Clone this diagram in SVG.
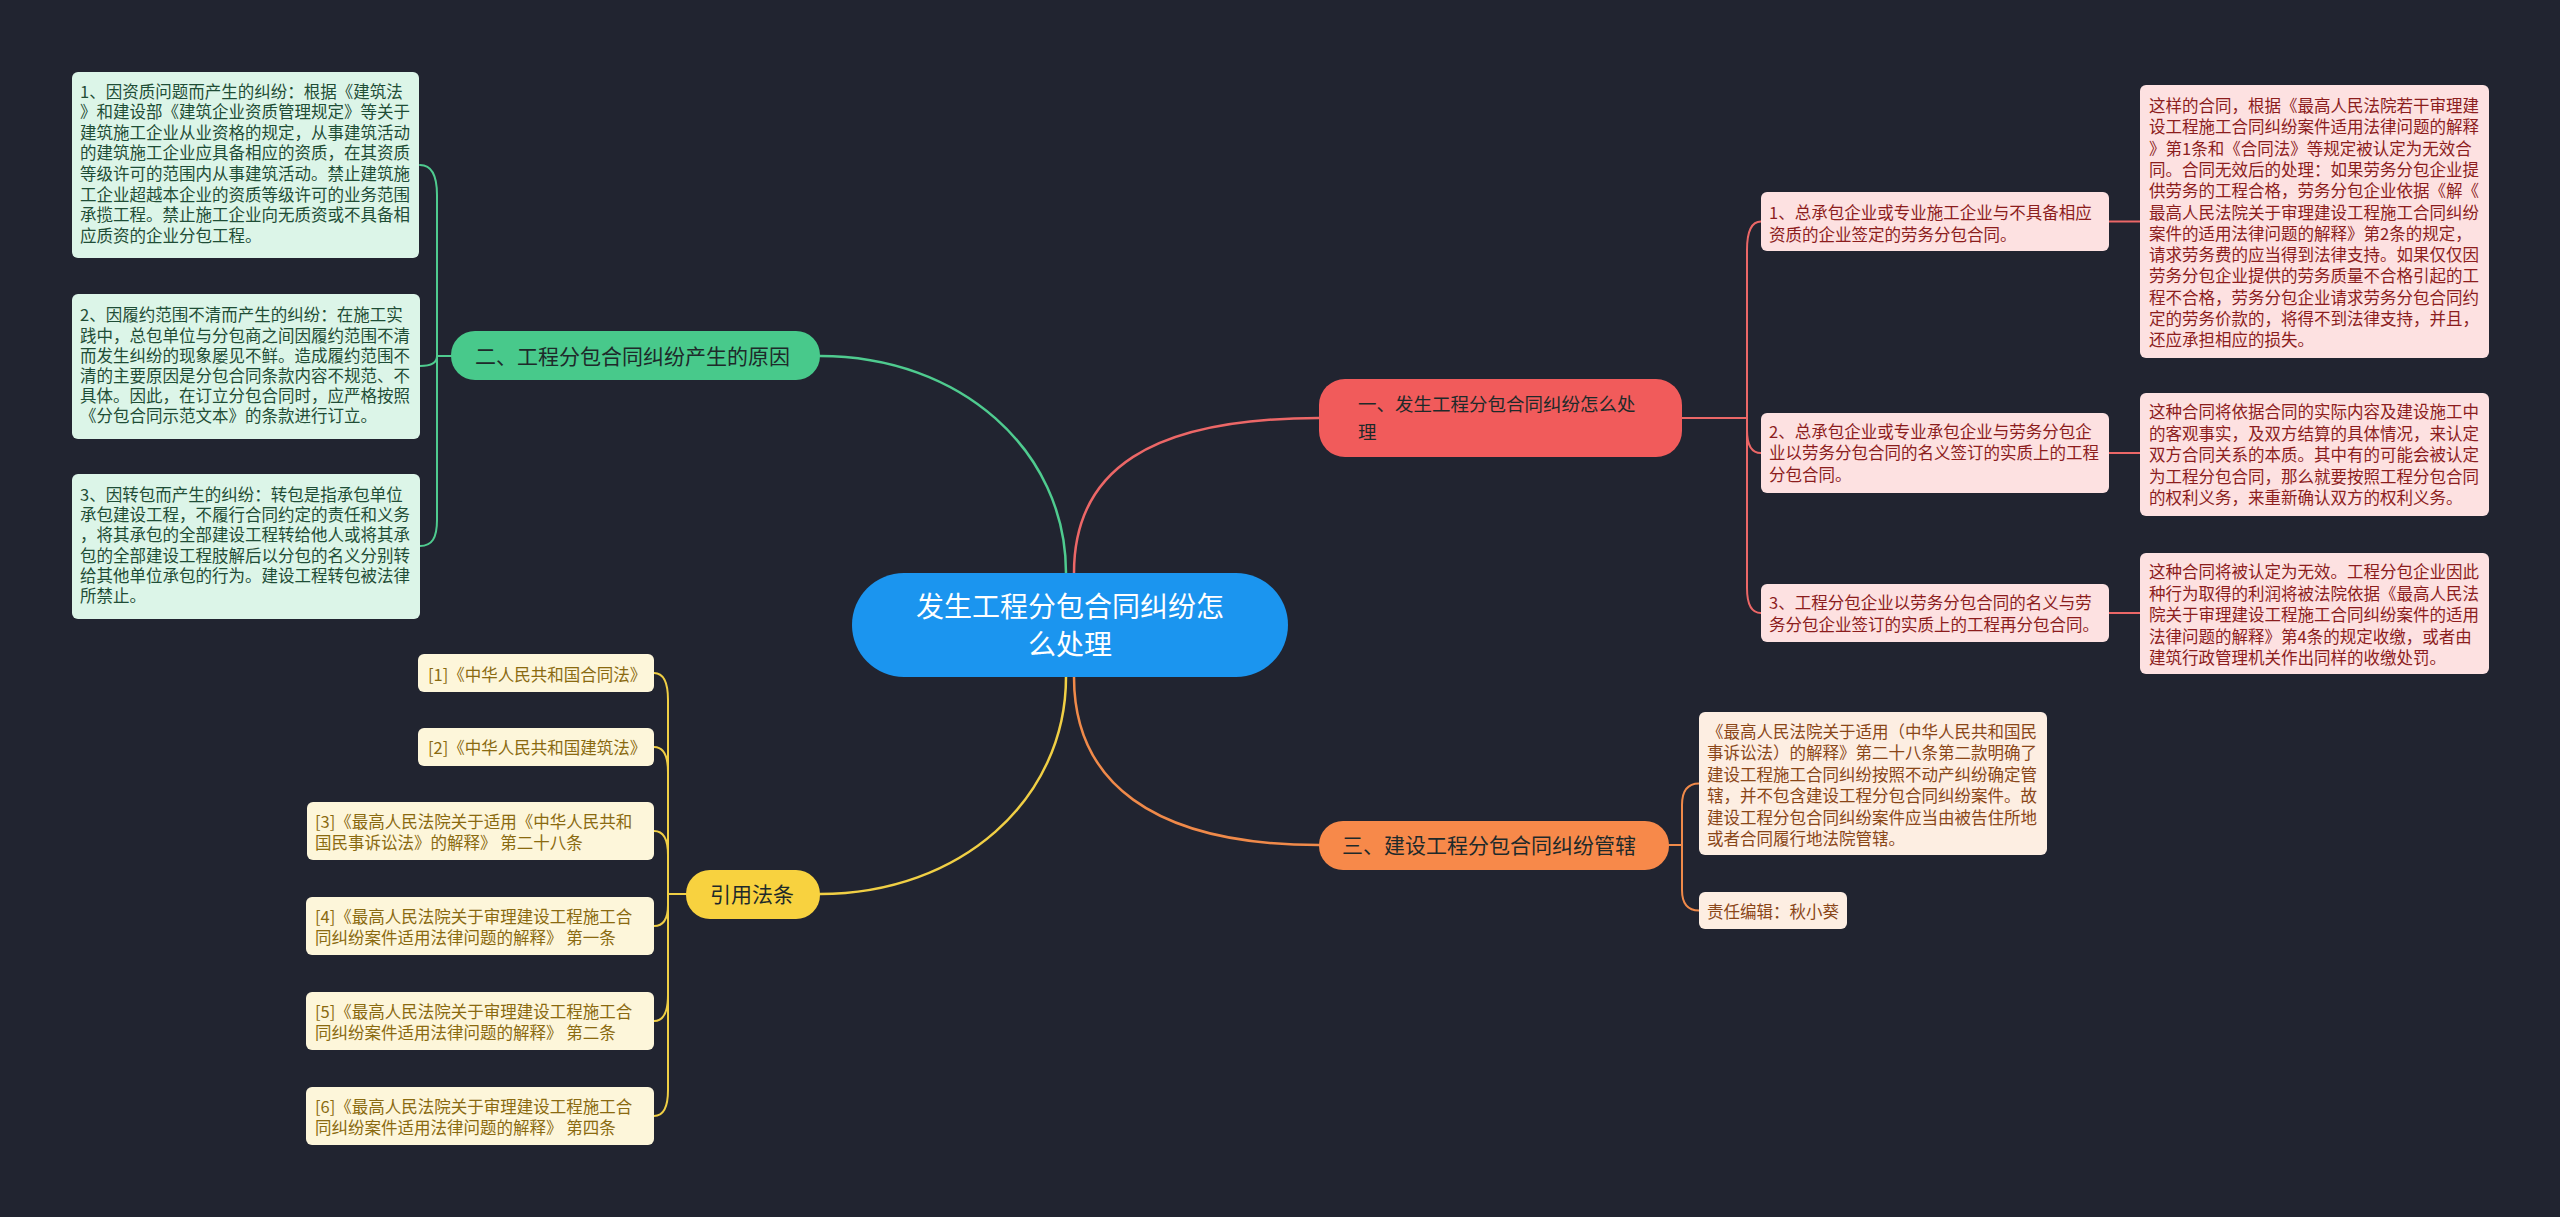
<svg xmlns="http://www.w3.org/2000/svg" width="2560" height="1217" viewBox="0 0 2560 1217">
<style>
text{font-family:"Noto Sans CJK SC","Liberation Sans",sans-serif;}
.main{fill:none;stroke-width:2.5;stroke-linecap:round;}
.sub{fill:none;stroke-width:2;stroke-linecap:round;}
.g{stroke:#4fcb8f;}
.r{stroke:#ec6767;}
.o{stroke:#f08a4a;}
.y{stroke:#f0cf45;}
.tnode{font-size:21px;fill:#1e2a2a;}
.tc{font-size:16.5px;}
.gb{fill:#dcf5e8;}
.gt{fill:#1f4d36;}
.rb{fill:#fde1e1;}
.rt{fill:#8c1d1d;}
.ob{fill:#fdeee2;}
.ot{fill:#8a4618;}
.yb{fill:#fdf6da;}
.yt{fill:#8a6a10;}
</style>
<rect width="2560" height="1217" fill="#212430"/>
<g id="connectors">
<path class="main g" d="M1066 573 C1066 450,960 356,820 356"/>
<path class="main r" d="M1074 573 C1074 470,1150 418,1319 418"/>
<path class="main o" d="M1074 677 C1074 780,1150 845,1319 845"/>
<path class="main y" d="M1066 677 C1066 800,960 894,820 894"/>
<path class="sub g" d="M451 356 H437"/>
<path class="sub g" d="M437 356 V195 C437 175,432 165,420 165"/>
<path class="sub g" d="M437 356 C437 362,432 366,420 366"/>
<path class="sub g" d="M437 356 V520 C437 538,432 546,420 546"/>
<path class="sub r" d="M1682 418 H1747"/>
<path class="sub r" d="M1747 418 V250 C1747 230,1752 221.5,1761 221.5"/>
<path class="sub r" d="M1747 418 V430 C1747 446,1752 453,1761 453"/>
<path class="sub r" d="M1747 418 V588 C1747 606,1752 613,1761 613"/>
<path class="sub r" d="M2109 221.5 H2140"/>
<path class="sub r" d="M2109 453 H2140"/>
<path class="sub r" d="M2109 613 H2140"/>
<path class="sub o" d="M1669 845 H1682"/>
<path class="sub o" d="M1682 845 V805 C1682 790,1688 783.5,1699 783.5"/>
<path class="sub o" d="M1682 845 V890 C1682 904,1688 910.5,1699 910.5"/>
<path class="sub y" d="M686 894 H668"/>
<path class="sub y" d="M668 894 V700 C668 682,663 673,654 673"/>
<path class="sub y" d="M668 894 V772 C668 755,663 747,654 747"/>
<path class="sub y" d="M668 894 V855 C668 838,663 831,654 831"/>
<path class="sub y" d="M668 894 V905 C668 920,663 926,654 926"/>
<path class="sub y" d="M668 894 V995 C668 1013,663 1021,654 1021"/>
<path class="sub y" d="M668 894 V1090 C668 1108,663 1116,654 1116"/>
</g>
<g id="central">
<rect x="852" y="573" width="436" height="104" rx="52" fill="#1b95ef"/>
<text x="1070" y="617" font-size="28" fill="#ffffff" text-anchor="middle">发生工程分包合同纠纷怎</text>
<text x="1070" y="655" font-size="28" fill="#ffffff" text-anchor="middle">么处理</text>
</g>
<g id="node-green">
<rect x="451" y="331" width="369" height="49" rx="24" fill="#48c98b"/>
<text class="tnode" x="475" y="363.6">二、工程分包合同纠纷产生的原因</text>
</g>
<g id="node-red">
<rect x="1319" y="379" width="363" height="78" rx="26" fill="#f15b5b"/>
<text class="tnode" x="1358" y="411" style="font-size:18.5px">一、发生工程分包合同纠纷怎么处</text>
<text class="tnode" x="1358" y="439" style="font-size:18.5px">理</text>
</g>
<g id="node-orange">
<rect x="1319" y="821" width="350" height="49" rx="24" fill="#f7894a"/>
<text class="tnode" x="1342" y="852.6">三、建设工程分包合同纠纷管辖</text>
</g>
<g id="node-yellow">
<rect x="686" y="870" width="134" height="49" rx="24" fill="#f8d23f"/>
<text class="tnode" x="710" y="901.6">引用法条</text>
</g>
<g id="g1">
<rect class="gb" x="72" y="72" width="347" height="186" rx="6"/>
<text class="tc gt" x="80" y="97.6">
<tspan x="80" dy="0">1、因资质问题而产生的纠纷：根据《建筑法</tspan>
<tspan x="80" dy="20.6">》和建设部《建筑企业资质管理规定》等关于</tspan>
<tspan x="80" dy="20.6">建筑施工企业从业资格的规定，从事建筑活动</tspan>
<tspan x="80" dy="20.6">的建筑施工企业应具备相应的资质，在其资质</tspan>
<tspan x="80" dy="20.6">等级许可的范围内从事建筑活动。禁止建筑施</tspan>
<tspan x="80" dy="20.6">工企业超越本企业的资质等级许可的业务范围</tspan>
<tspan x="80" dy="20.6">承揽工程。禁止施工企业向无质资或不具备相</tspan>
<tspan x="80" dy="20.6">应质资的企业分包工程。</tspan>
</text>
</g>
<g id="g2">
<rect class="gb" x="72" y="294" width="348" height="145" rx="6"/>
<text class="tc gt" x="80" y="321.4">
<tspan x="80" dy="0">2、因履约范围不清而产生的纠纷：在施工实</tspan>
<tspan x="80" dy="20.2">践中，总包单位与分包商之间因履约范围不清</tspan>
<tspan x="80" dy="20.2">而发生纠纷的现象屡见不鲜。造成履约范围不</tspan>
<tspan x="80" dy="20.2">清的主要原因是分包合同条款内容不规范、不</tspan>
<tspan x="80" dy="20.2">具体。因此，在订立分包合同时，应严格按照</tspan>
<tspan x="80" dy="20.2">《分包合同示范文本》的条款进行订立。</tspan>
</text>
</g>
<g id="g3">
<rect class="gb" x="72" y="474" width="348" height="145" rx="6"/>
<text class="tc gt" x="80" y="501">
<tspan x="80" dy="0">3、因转包而产生的纠纷：转包是指承包单位</tspan>
<tspan x="80" dy="20.2">承包建设工程，不履行合同约定的责任和义务</tspan>
<tspan x="80" dy="20.2">，将其承包的全部建设工程转给他人或将其承</tspan>
<tspan x="80" dy="20.2">包的全部建设工程肢解后以分包的名义分别转</tspan>
<tspan x="80" dy="20.2">给其他单位承包的行为。建设工程转包被法律</tspan>
<tspan x="80" dy="20.2">所禁止。</tspan>
</text>
</g>
<g id="r1">
<rect class="rb" x="1761" y="192" width="348" height="59" rx="6"/>
<text class="tc rt" x="1769" y="219">
<tspan x="1769" dy="0">1、总承包企业或专业施工企业与不具备相应</tspan>
<tspan x="1769" dy="21.5">资质的企业签定的劳务分包合同。</tspan>
</text>
</g>
<g id="r1d">
<rect class="rb" x="2140" y="85" width="349" height="273" rx="6"/>
<text class="tc rt" x="2149" y="112">
<tspan x="2149" dy="0">这样的合同，根据《最高人民法院若干审理建</tspan>
<tspan x="2149" dy="21.3">设工程施工合同纠纷案件适用法律问题的解释</tspan>
<tspan x="2149" dy="21.3">》第1条和《合同法》等规定被认定为无效合</tspan>
<tspan x="2149" dy="21.3">同。合同无效后的处理：如果劳务分包企业提</tspan>
<tspan x="2149" dy="21.3">供劳务的工程合格，劳务分包企业依据《解《</tspan>
<tspan x="2149" dy="21.3">最高人民法院关于审理建设工程施工合同纠纷</tspan>
<tspan x="2149" dy="21.3">案件的适用法律问题的解释》第2条的规定，</tspan>
<tspan x="2149" dy="21.3">请求劳务费的应当得到法律支持。如果仅仅因</tspan>
<tspan x="2149" dy="21.3">劳务分包企业提供的劳务质量不合格引起的工</tspan>
<tspan x="2149" dy="21.3">程不合格，劳务分包企业请求劳务分包合同约</tspan>
<tspan x="2149" dy="21.3">定的劳务价款的，将得不到法律支持，并且，</tspan>
<tspan x="2149" dy="21.3">还应承担相应的损失。</tspan>
</text>
</g>
<g id="r2">
<rect class="rb" x="1761" y="413" width="348" height="80" rx="6"/>
<text class="tc rt" x="1769" y="437.5">
<tspan x="1769" dy="0">2、总承包企业或专业承包企业与劳务分包企</tspan>
<tspan x="1769" dy="21.5">业以劳务分包合同的名义签订的实质上的工程</tspan>
<tspan x="1769" dy="21.5">分包合同。</tspan>
</text>
</g>
<g id="r2d">
<rect class="rb" x="2140" y="393" width="349" height="123" rx="6"/>
<text class="tc rt" x="2149" y="418">
<tspan x="2149" dy="0">这种合同将依据合同的实际内容及建设施工中</tspan>
<tspan x="2149" dy="21.5">的客观事实，及双方结算的具体情况，来认定</tspan>
<tspan x="2149" dy="21.5">双方合同关系的本质。其中有的可能会被认定</tspan>
<tspan x="2149" dy="21.5">为工程分包合同，那么就要按照工程分包合同</tspan>
<tspan x="2149" dy="21.5">的权利义务，来重新确认双方的权利义务。</tspan>
</text>
</g>
<g id="r3">
<rect class="rb" x="1761" y="584" width="348" height="58" rx="6"/>
<text class="tc rt" x="1769" y="609">
<tspan x="1769" dy="0">3、工程分包企业以劳务分包合同的名义与劳</tspan>
<tspan x="1769" dy="22">务分包企业签订的实质上的工程再分包合同。</tspan>
</text>
</g>
<g id="r3d">
<rect class="rb" x="2140" y="553" width="349" height="121" rx="6"/>
<text class="tc rt" x="2149" y="578">
<tspan x="2149" dy="0">这种合同将被认定为无效。工程分包企业因此</tspan>
<tspan x="2149" dy="21.5">种行为取得的利润将被法院依据《最高人民法</tspan>
<tspan x="2149" dy="21.5">院关于审理建设工程施工合同纠纷案件的适用</tspan>
<tspan x="2149" dy="21.5">法律问题的解释》第4条的规定收缴，或者由</tspan>
<tspan x="2149" dy="21.5">建筑行政管理机关作出同样的收缴处罚。</tspan>
</text>
</g>
<g id="o1">
<rect class="ob" x="1699" y="712" width="348" height="143" rx="6"/>
<text class="tc ot" x="1707" y="738">
<tspan x="1707" dy="0">《最高人民法院关于适用（中华人民共和国民</tspan>
<tspan x="1707" dy="21.4">事诉讼法）的解释》第二十八条第二款明确了</tspan>
<tspan x="1707" dy="21.4">建设工程施工合同纠纷按照不动产纠纷确定管</tspan>
<tspan x="1707" dy="21.4">辖，并不包含建设工程分包合同纠纷案件。故</tspan>
<tspan x="1707" dy="21.4">建设工程分包合同纠纷案件应当由被告住所地</tspan>
<tspan x="1707" dy="21.4">或者合同履行地法院管辖。</tspan>
</text>
</g>
<g id="o2">
<rect class="ob" x="1699" y="892" width="148" height="37" rx="6"/>
<text class="tc ot" x="1707" y="918">责任编辑：秋小葵</text>
</g>
<g id="c1">
<rect class="yb" x="418" y="654" width="236" height="38" rx="6"/>
<text class="tc yt" x="428" y="681">[1]《中华人民共和国合同法》</text>
</g>
<g id="c2">
<rect class="yb" x="418" y="728" width="236" height="38" rx="6"/>
<text class="tc yt" x="428" y="754">[2]《中华人民共和国建筑法》</text>
</g>
<g id="c3">
<rect class="yb" x="307" y="802" width="347" height="58" rx="6"/>
<text class="tc yt" x="315" y="828">
<tspan x="315" dy="0">[3]《最高人民法院关于适用《中华人民共和</tspan>
<tspan x="315" dy="21">国民事诉讼法》的解释》 第二十八条</tspan>
</text>
</g>
<g id="c4">
<rect class="yb" x="306" y="897" width="348" height="58" rx="6"/>
<text class="tc yt" x="315" y="923">
<tspan x="315" dy="0">[4]《最高人民法院关于审理建设工程施工合</tspan>
<tspan x="315" dy="21">同纠纷案件适用法律问题的解释》 第一条</tspan>
</text>
</g>
<g id="c5">
<rect class="yb" x="306" y="992" width="348" height="58" rx="6"/>
<text class="tc yt" x="315" y="1018">
<tspan x="315" dy="0">[5]《最高人民法院关于审理建设工程施工合</tspan>
<tspan x="315" dy="21">同纠纷案件适用法律问题的解释》 第二条</tspan>
</text>
</g>
<g id="c6">
<rect class="yb" x="306" y="1087" width="348" height="58" rx="6"/>
<text class="tc yt" x="315" y="1113">
<tspan x="315" dy="0">[6]《最高人民法院关于审理建设工程施工合</tspan>
<tspan x="315" dy="21">同纠纷案件适用法律问题的解释》 第四条</tspan>
</text>
</g>
</svg>
